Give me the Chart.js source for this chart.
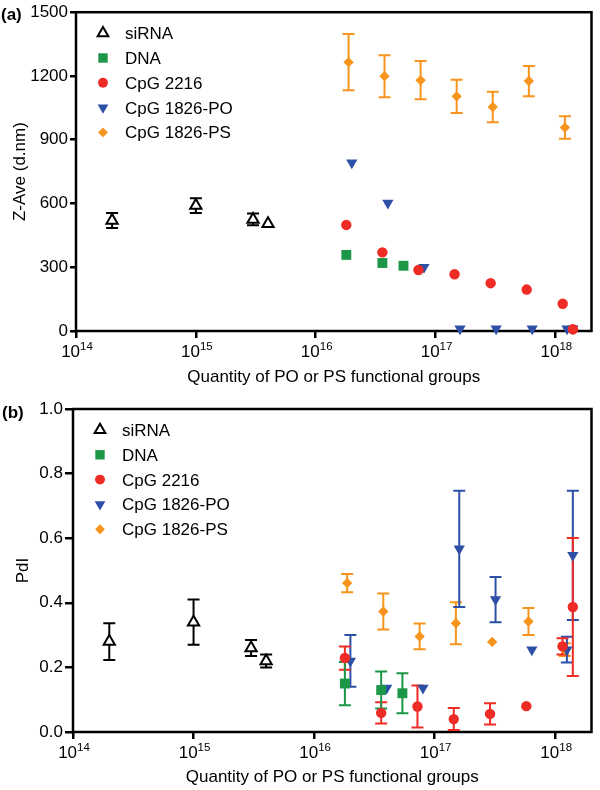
<!DOCTYPE html>
<html><head><meta charset="utf-8">
<script src="https://cdn.jsdelivr.net/npm/chart.js@4/dist/chart.umd.min.js"></script>
<style>
html,body{margin:0;padding:0;background:#fff;}
#wrap{position:relative;width:600px;height:790px;overflow:hidden;background:#fff;}
canvas{position:absolute;left:0;}
.lab{position:absolute;font:bold 17px 'Liberation Sans',Arial,sans-serif;color:#000;line-height:normal;}
</style></head><body>
<div id="wrap">
<canvas id="c1" width="600" height="390" style="top:0"></canvas>
<canvas id="c2" width="600" height="400" style="top:390px"></canvas>
<div class="lab" style="left:1px;top:5px">(a)</div>
<div class="lab" style="left:2px;top:403px">(b)</div>
</div>
<script>
// ---------------- data ----------------
const seriesNames = ['siRNA', 'DNA', 'CpG 2216', 'CpG 1826-PO', 'CpG 1826-PS'];
const xTickExponents = [14, 15, 16, 17, 18];
const zTicks = [0, 300, 600, 900, 1200, 1500];
const pdiTicks = [0, 0.2, 0.4, 0.6, 0.8, 1.0];

// quantity of PO/PS functional groups
const siRNA_x   = [2e14, 1e15, 3e15, 4e15];
const DNA_x     = [1.8e16, 3.6e16, 5.4e16];
const CpG2216_x = [1.8e16, 3.6e16, 7.2e16, 1.44e17, 2.88e17, 5.76e17, 1.15e18, 1.4e18];
const PO_x      = [2e16, 4e16, 8e16, 1.6e17, 3.2e17, 6.4e17, 1.25e18, 1.4e18];
const PS_x      = [1.88e16, 3.75e16, 7.5e16, 1.5e17, 3e17, 6e17, 1.2e18];

// (a) Z-Ave (d.nm)
const siRNA_z   = [520, 590, 525, 505];
const siRNA_zErr= [35, 35, 28, 0];
const DNA_z     = [358, 320, 307];
const DNA_zErr  = [0, 0, 0];
const CpG2216_z = [499, 370, 287, 267, 225, 195, 128, 8];
const CpG2216_zErr = [0, 0, 0, 0, 0, 0, 0, 0];
const PO_z      = [792, 602, 300, 10, 10, 10, 10, 10];
const PO_zErr   = [0, 0, 0, 0, 0, 0, 0, 0];
const PS_z      = [1265, 1199, 1180, 1104, 1054, 1176, 957];
const PS_zErr   = [132, 99, 90, 78, 72, 71, 53];

// (b) PdI
const siRNA_p   = [0.28, 0.34, 0.26, 0.22];
const siRNA_pErr= [0.057, 0.07, 0.025, 0.02];
const DNA_p     = [0.15, 0.13, 0.12];
const DNA_pErr  = [0.067, 0.057, 0.062];
const CpG2216_p = [0.229, 0.059, 0.079, 0.04, 0.056, 0.08, 0.265, 0.387];
const CpG2216_pErr = [0.036, 0.033, 0.065, 0.034, 0.033, 0, 0.025, 0.214];
const PO_p      = [0.22, 0.136, 0.136, 0.567, 0.41, 0.255, 0.255, 0.547];
const PO_pErr   = [0.08, 0, 0, 0.18, 0.07, 0, 0.04, 0.2];
const PS_p      = [0.461, 0.373, 0.296, 0.337, 0.279, 0.342, 0.255];
const PS_pErr   = [0.028, 0.056, 0.04, 0.065, 0, 0.042, 0.02];

// ---------------- styling ----------------
const FONT = "'Liberation Sans', Arial, Helvetica, sans-serif";
const xSeries = [siRNA_x, DNA_x, CpG2216_x, PO_x, PS_x];
const styles = [
  {ps: 'triangle', rot: 0,   r: 6.5, fill: '#ffffff', stroke: '#000000', bw: 2, err: '#000000'},
  {ps: 'rect',     rot: 0,   r: 7,   fill: '#1b9747', stroke: '#1b9747', bw: 0, err: '#1b9747'},
  {ps: 'circle',   rot: 0,   r: 5.2, fill: '#ee2b25', stroke: '#ee2b25', bw: 0, err: '#ee2b25'},
  {ps: 'triangle', rot: 180, r: 6.5, fill: '#2d50a6', stroke: '#2d50a6', bw: 0, err: '#2d50a6'},
  {ps: 'rectRot',  rot: 0,   r: 5.2, fill: '#f7941d', stroke: '#f7941d', bw: 0, err: '#f7941d'}
];

function makeDatasets(ySeries, errSeries) {
  return seriesNames.map((name, i) => ({
    label: name,
    data: xSeries[i].map((x, j) => ({x: x, y: ySeries[i][j]})),
    errors: errSeries[i],
    errColor: styles[i].err,
    pointStyle: styles[i].ps,
    pointRotation: styles[i].rot,
    pointRadius: styles[i].r,
    pointHoverRadius: styles[i].r,
    backgroundColor: styles[i].fill,
    borderColor: styles[i].stroke,
    pointBorderWidth: styles[i].bw,
    showLine: false,
    clip: false
  }));
}

// frame + error bars (drawn before the markers)
const framePlugin = {
  id: 'frameErr',
  beforeDatasetsDraw(chart) {
    const {ctx, chartArea: a} = chart;
    const xs = chart.scales.x, ys = chart.scales.y;
    ctx.save();
    ctx.strokeStyle = '#000';
    ctx.lineWidth = 2.5;
    ctx.lineJoin = 'miter';
    ctx.strokeRect(a.left, a.top, a.right - a.left, a.bottom - a.top);
    ctx.lineWidth = 2;
    ctx.lineCap = 'butt';
    const dss = chart.data.datasets;
    for (let i = dss.length - 1; i >= 0; i--) {
      const ds = dss[i];
      ctx.strokeStyle = ds.errColor;
      ds.data.forEach((p, j) => {
        const e = ds.errors[j];
        if (!e) return;
        const px = xs.getPixelForValue(p.x);
        const y1 = ys.getPixelForValue(p.y + e);
        const y2 = ys.getPixelForValue(Math.max(p.y - e, ys.min));
        ctx.beginPath();
        ctx.moveTo(px, y1); ctx.lineTo(px, y2);
        ctx.moveTo(px - 6, y1); ctx.lineTo(px + 6, y1);
        if (p.y - e >= ys.min) { ctx.moveTo(px - 6, y2); ctx.lineTo(px + 6, y2); }
        ctx.stroke();
      });
    }
    ctx.restore();
  }
};

// x tick labels as 10^n with superscripts, and the legend
const labelPlugin = {
  id: 'labels',
  afterDraw(chart, args, opts) {
    const {ctx, chartArea: a} = chart;
    const xs = chart.scales.x;
    ctx.save();
    ctx.fillStyle = '#000';
    ctx.textBaseline = 'alphabetic';
    ctx.textAlign = 'left';
    xTickExponents.forEach(e => {
      const px = xs.getPixelForValue(Math.pow(10, e));
      ctx.font = '17px ' + FONT;
      const wb = ctx.measureText('10').width;
      ctx.font = '11.5px ' + FONT;
      const we = ctx.measureText(String(e)).width;
      const x0 = px - (wb + we) / 2 + 1;
      const base = a.bottom + opts.tickBase;
      ctx.font = '17px ' + FONT;
      ctx.fillText('10', x0, base);
      ctx.font = '11.5px ' + FONT;
      ctx.fillText(String(e), x0 + wb, base - 7);
    });
    // legend
    chart.data.datasets.forEach((ds, i) => {
      const y = a.top + opts.legTop + i * opts.legStep;
      const mx = a.left + 27;
      ctx.fillStyle = ds.backgroundColor;
      ctx.strokeStyle = ds.borderColor;
      ctx.lineWidth = ds.pointBorderWidth;
      Chart.helpers.drawPoint(ctx, {
        pointStyle: ds.pointStyle, rotation: ds.pointRotation,
        radius: ds.pointRadius * 0.95, borderWidth: ds.pointBorderWidth
      }, mx, y);
      ctx.fillStyle = '#000';
      ctx.font = '17px ' + FONT;
      ctx.fillText(ds.label, a.left + 49, y + 6);
    });
    ctx.restore();
  }
};

function makeChart(id, cfg) {
  const tickFont = {family: FONT, size: 17};
  return new Chart(document.getElementById(id), {
    type: 'scatter',
    data: {datasets: makeDatasets(cfg.ys, cfg.errs)},
    plugins: [framePlugin, labelPlugin],
    options: {
      responsive: false,
      devicePixelRatio: 1,
      animation: false,
      events: [],
      layout: {padding: {top: cfg.padTop, right: cfg.padRight, left: 0, bottom: 0}},
      plugins: {
        legend: {display: false},
        tooltip: {enabled: false},
        labels: {tickBase: 26, legTop: 21, legStep: 24.8}
      },
      scales: {
        x: {
          type: 'logarithmic',
          min: 1e14, max: 2e18,
          afterBuildTicks: s => { s.ticks = xTickExponents.map(e => ({value: Math.pow(10, e)})); },
          afterFit: s => { s.height = cfg.xHeight; },
          ticks: {callback: () => '', autoSkip: false, maxRotation: 0, font: tickFont, color: '#000'},
          grid: {drawOnChartArea: false, drawTicks: true, tickLength: 7, lineWidth: 2.5, color: '#000'},
          border: {display: false},
          title: {display: true, text: 'Quantity of PO or PS functional groups', color: '#000',
                  font: {family: FONT, size: 17}, padding: {top: 0, bottom: cfg.xTitlePad}}
        },
        y: {
          type: 'linear',
          min: cfg.yTicks[0], max: cfg.yTicks[cfg.yTicks.length - 1],
          afterBuildTicks: s => { s.ticks = cfg.yTicks.map(v => ({value: v})); },
          afterFit: s => { s.width = cfg.yWidth; },
          ticks: {callback: cfg.yFmt, autoSkip: false, font: tickFont, color: '#000', padding: 2},
          grid: {drawOnChartArea: false, drawTicks: true, tickLength: cfg.yTick, lineWidth: 2.5, color: '#000'},
          border: {display: false},
          title: {display: true, text: cfg.yTitle, color: '#000',
                  font: {family: FONT, size: 17}, padding: {top: cfg.yTitlePad, bottom: 0}}
        }
      }
    }
  });
}

makeChart('c1', {
  ys: [siRNA_z, DNA_z, CpG2216_z, PO_z, PS_z],
  errs: [siRNA_zErr, DNA_zErr, CpG2216_zErr, PO_zErr, PS_zErr],
  yTicks: zTicks, yFmt: v => String(v), yTitle: 'Z-Ave (d.nm)',
  padTop: 10, padRight: 8, xHeight: 59, yWidth: 76, yTick: 6, xTitlePad: 2, yTitlePad: 10
});
makeChart('c2', {
  ys: [siRNA_p, DNA_p, CpG2216_p, PO_p, PS_p],
  errs: [siRNA_pErr, DNA_pErr, CpG2216_pErr, PO_pErr, PS_pErr],
  yTicks: pdiTicks, yFmt: v => Number(v).toFixed(1), yTitle: 'PdI',
  padTop: 19, padRight: 7, xHeight: 58, yWidth: 73, yTick: 8, xTitlePad: 2.5, yTitlePad: 13
});
</script>
</body></html>
